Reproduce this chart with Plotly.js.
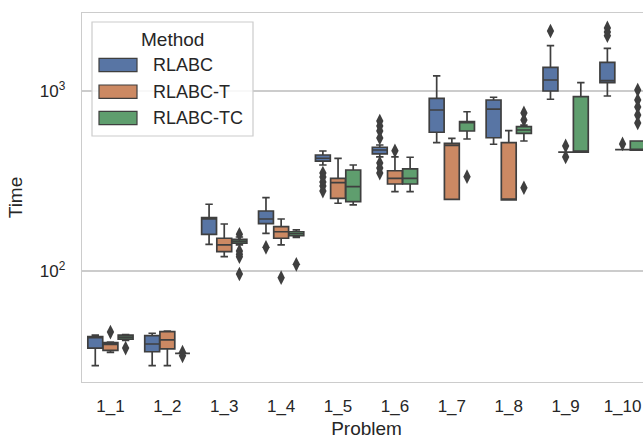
<!DOCTYPE html>
<html>
<head>
<meta charset="utf-8">
<script src="https://cdn.plot.ly/plotly-3.0.1.min.js"></script>
<style>
html, body { margin:0; padding:0; overflow:hidden; background:#fff; }
#chart { width:660px; height:439px; }
</style>
</head>
<body>
<div id="chart"></div>
<script>
// ---- data ----
const problems = ['1_1','1_2','1_3','1_4','1_5','1_6','1_7','1_8','1_9','1_10'];
const methods = ['RLABC','RLABC-T','RLABC-TC'];

const rlabc_lo  = [29.8, 29.8, 140.6, 161.8, 388, 431, 516, 506, 900, 938];
const rlabc_q1  = [37.3, 35.6, 159.9, 183.2, 408, 447, 590, 550, 1000, 1112];
const rlabc_med = [43.0, 39.3, 194.5, 194.5, 423, 470, 784, 794, 1151, 1141];
const rlabc_q3  = [43.2, 43.7, 197.7, 215.4, 441, 487, 911, 891, 1354, 1443];
const rlabc_hi  = [44.1, 45.1, 234.8, 255.4, 464, 501, 1212, 923, 1785, 1726];
const rlabc_out = [[], [], [], [135.4], [350, 333, 312, 297, 278], [681, 639, 600, 548, 398, 373, 350], [], [], [2154], [2240, 2130, 2030]];

const rlabct_lo  = [35.3, 29.8, 120.1, 139.5, 237.9, 276, 250, 248, 457, 472];
const rlabct_q1  = [36.2, 36.9, 128.0, 152.0, 253.5, 304.3, 250, 248, 457, 472];
const rlabct_med = [39.1, 41.4, 139.5, 165.2, 309.5, 327.4, 499, 250, 457, 472];
const rlabct_q3  = [40.0, 46.0, 152.0, 176.2, 327.4, 360.5, 512, 516, 457, 472];
const rlabct_hi  = [40.3, 46.4, 182.4, 194.5, 422.7, 431, 546, 602, 457, 472];
const rlabct_out = [[45.8], [], [], [91.8], [], [465.6], [], [], [495, 430], [508]];

const rlabctc_lo  = [41.1, 34.9, 139.5, 153.8, 232.8, 276, 541, 527.5, 457, 468.5];
const rlabctc_q1  = [41.8, 34.9, 142.6, 157.0, 242.6, 304.3, 599.5, 582, 457, 468.5];
const rlabctc_med = [42.9, 34.9, 146.2, 161.0, 294, 327.4, 672, 607, 457, 468.5];
const rlabctc_q3  = [44.0, 34.9, 150.0, 165.2, 364, 368.8, 675, 634, 930, 527.5];
const rlabctc_hi  = [44.3, 34.9, 154.5, 169.0, 388, 428.5, 767, 647, 1112, 527.5];
const rlabctc_out = [[37.3], [35.4, 33.8], [160, 129, 124, 120, 96.2], [108.9], [], [], [334], [755, 690, 290], [], [1013, 891, 815, 735, 664]];

// ---- style ----
const colors = ['#5875a4', '#cc8963', '#5f9e6e'];
const edge = '#3f3f3f';
const textColor = '#262626';
const font = '"Liberation Sans", Arial, sans-serif';
const groupWidth = 0.8;
const slot = groupWidth / methods.length;

const stats = [
  {lo: rlabc_lo, q1: rlabc_q1, med: rlabc_med, q3: rlabc_q3, hi: rlabc_hi, out: rlabc_out},
  {lo: rlabct_lo, q1: rlabct_q1, med: rlabct_med, q3: rlabct_q3, hi: rlabct_hi, out: rlabct_out},
  {lo: rlabctc_lo, q1: rlabctc_q1, med: rlabctc_med, q3: rlabctc_q3, hi: rlabctc_hi, out: rlabctc_out}
];

const traces = [];
stats.forEach((s, m) => {
  const off = (m - (methods.length - 1) / 2) * slot;
  const xs = problems.map((p, i) => i + off);
  traces.push({
    type: 'box', name: methods[m], x: xs,
    q1: s.q1, median: s.med, q3: s.q3, lowerfence: s.lo, upperfence: s.hi,
    width: slot * 0.98, whiskerwidth: 0.5,
    fillcolor: colors[m], line: {color: edge, width: 1.7},
    boxpoints: false, showlegend: false, hoverinfo: 'skip'
  });
  const ox = [], oy = [];
  s.out.forEach((arr, i) => arr.forEach(v => { ox.push(i + off); oy.push(v); }));
  traces.push({
    type: 'scatter', mode: 'markers', x: ox, y: oy, showlegend: false, hoverinfo: 'skip',
    marker: {symbol: 'diamond-tall', size: 10.5, color: edge, line: {width: 0}}
  });
});

// ---- legend (drawn in pixel space converted to paper) ----
const M = {l: 82, r: 9, t: 13, b: 57};
const W = 660, H = 439;
const pw = W - M.l - M.r, ph = H - M.t - M.b;
const px = v => (v - M.l) / pw;
const py = v => (H - M.b - v) / ph;

const shapes = [{
  type: 'rect', xref: 'paper', yref: 'paper', layer: 'above',
  x0: px(92), x1: px(253), y0: py(136), y1: py(22),
  fillcolor: 'rgba(255,255,255,0.85)', line: {color: '#cccccc', width: 1.2}
}];
const annotations = [{
  xref: 'paper', yref: 'paper', x: px(172.5), y: py(39), text: 'Method', showarrow: false,
  xanchor: 'center', yanchor: 'middle', font: {family: font, size: 19, color: textColor}
}];
const rowY = [65, 91.7, 118];
methods.forEach((name, m) => {
  shapes.push({
    type: 'rect', xref: 'paper', yref: 'paper', layer: 'above',
    x0: px(99), x1: px(137), y0: py(rowY[m] + 6.7), y1: py(rowY[m] - 6.7),
    fillcolor: colors[m], line: {color: edge, width: 1.2}
  });
  annotations.push({
    xref: 'paper', yref: 'paper', x: px(151), y: py(rowY[m]), text: name, showarrow: false,
    xanchor: 'left', yanchor: 'middle', font: {family: font, size: 18, color: textColor}
  });
});

const layout = {
  width: W, height: H, margin: M,
  paper_bgcolor: '#ffffff', plot_bgcolor: '#ffffff',
  font: {family: font, color: textColor, size: 17},
  boxmode: 'overlay', showlegend: false,
  xaxis: {
    range: [-0.5, problems.length - 0.5],
    tickvals: problems.map((p, i) => i), ticktext: problems,
    showgrid: false, zeroline: false, ticks: '', ticklabelstandoff: 8,
    showline: true, mirror: true, linecolor: '#cccccc', linewidth: 1.3,
    tickfont: {size: 17, color: textColor},
    title: {text: 'Problem', font: {size: 19, color: textColor}, standoff: 12}
  },
  yaxis: {
    type: 'log', range: [1.3833, 3.4333],
    tickvals: [100, 1000], ticktext: ['10<sup>2</sup>', '10<sup>3</sup>'],
    showgrid: true, gridcolor: '#cccccc', gridwidth: 1.1, zeroline: false, ticks: '', ticklabelstandoff: 12,
    showline: true, mirror: true, linecolor: '#cccccc', linewidth: 1.3,
    tickfont: {size: 17, color: textColor},
    title: {text: 'Time', font: {size: 19, color: textColor}, standoff: 12}
  },
  shapes: shapes, annotations: annotations
};

Plotly.newPlot('chart', traces, layout, {staticPlot: true, displayModeBar: false});
</script>
</body>
</html>
